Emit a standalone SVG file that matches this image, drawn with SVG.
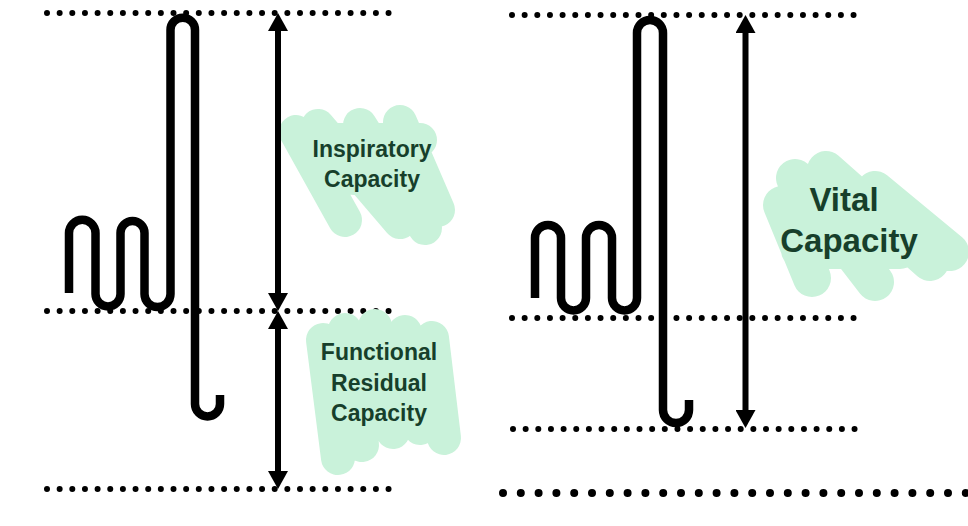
<svg xmlns="http://www.w3.org/2000/svg" width="968" height="526" viewBox="0 0 968 526">
<style>
.dot{stroke:#000;stroke-width:6;stroke-linecap:round;stroke-dasharray:0 12.65;fill:none}
.bigdot{stroke:#000;stroke-width:8;stroke-linecap:round;stroke-dasharray:0 17.8;fill:none}
.spring{stroke:#000;stroke-width:8.5;fill:none;stroke-linejoin:round}
.arrow{stroke:#000;stroke-width:6;fill:none;marker-start:url(#ah);marker-end:url(#ah)}
.blob{stroke:#c9f2da;stroke-width:34;stroke-linecap:round;stroke-linejoin:round;fill:none}
.lbl{font-family:"Liberation Sans",Arial,sans-serif;font-weight:bold;fill:#173f2b;text-anchor:middle}
</style>
<defs>
<marker id="ah" viewBox="0 0 18 20" refX="0" refY="10" markerWidth="18" markerHeight="20" orient="auto-start-reverse" markerUnits="userSpaceOnUse">
<path d="M0,0 L18,10 L0,20 z" fill="#000"/>
</marker>
</defs>
<rect width="968" height="526" fill="#fff"/>

<g id="levels">
<line class="dot" x1="47" y1="13" x2="397" y2="13"/>
<line class="dot" x1="47" y1="311" x2="397" y2="311"/>
<line class="dot" x1="47" y1="489" x2="397" y2="489"/>
<line class="dot" x1="512" y1="15" x2="866" y2="15"/>
<line class="dot" x1="512" y1="318" x2="866" y2="318"/>
<line class="dot" x1="513" y1="429" x2="866" y2="429"/>
<line class="bigdot" x1="503" y1="493" x2="975" y2="493"/>
</g>

<g id="spring-left">
<path class="spring" d="M69,293 L69,233 A13.25,13.25 0 0 1 95.5,233 L95.5,294 A12.5,12.5 0 0 0 120.5,294 L120.5,233 A12,12 0 0 1 144.5,233 L144.5,294 A13,13 0 0 0 170.5,294 L170.5,30 A12.25,12.25 0 0 1 195,30 L195,404 A12.5,12.5 0 0 0 220,404 L220,395"/>
</g>

<g id="spring-right">
<path class="spring" d="M535,298 L535,238 A13,13 0 0 1 561,238 L561,298 A12.5,12.5 0 0 0 586,298 L586,238 A13,13 0 0 1 612,238 L612,298 A12.5,12.5 0 0 0 637,298 L637,33 A13,13 0 0 1 663,33 L663,410 A13,13 0 0 0 689,410 L689,400"/>
</g>

<g id="label-ic">
<path class="blob" d="M296,132 L345,220 M318,126 L400,222 M360,125 L425,228 M400,122 L438,210 M330,140 L420,140 M330,175 L415,185"/>
<text class="lbl" x="372" y="157" font-size="23">Inspiratory</text>
<text class="lbl" x="372" y="187" font-size="23">Capacity</text>
</g>

<g id="label-frc">
<path class="blob" d="M323,340 L338,458 M345,330 L362,445 M375,326 L393,432 M405,332 L420,428 M432,338 L444,438 M340,380 L430,380"/>
<text class="lbl" x="379" y="360" font-size="23">Functional</text>
<text class="lbl" x="379" y="391" font-size="23">Residual</text>
<text class="lbl" x="379" y="421" font-size="23">Capacity</text>
</g>

<g id="label-vc">
<path class="blob" style="stroke-width:38" d="M782,205 L812,278 M795,178 L875,282 M826,170 L930,262 M875,190 L950,252 M810,230 L920,230 M800,250 L900,250"/>
<text class="lbl" x="844" y="211" font-size="33">Vital</text>
<text class="lbl" x="849" y="252" font-size="33">Capacity</text>
</g>

<g id="connectors">
<line class="arrow" x1="278" y1="31" x2="278" y2="293"/>
<line class="arrow" x1="278" y1="329" x2="278" y2="471"/>
<line class="arrow" x1="745.5" y1="33" x2="745.5" y2="410"/>
</g>
</svg>
